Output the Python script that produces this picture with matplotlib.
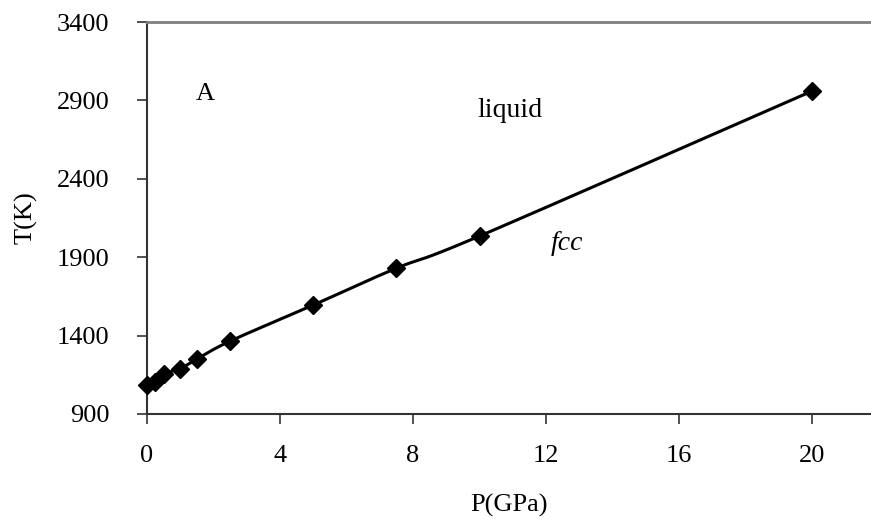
import numpy as np
import matplotlib
matplotlib.use("Agg")
import matplotlib.pyplot as plt

P = [0, 0.25, 0.5, 1.0, 1.5, 2.5, 5, 7.5, 10, 20]
T = [1085, 1105, 1155, 1190, 1250, 1365, 1595, 1830, 2035, 2960]
xticks = [0, 4, 8, 12, 16, 20]
yticks = [900, 1400, 1900, 2400, 2900, 3400]

plt.rcParams['font.family'] = ['Liberation Serif', 'DejaVu Serif']

fig = plt.figure(figsize=(8.71, 5.22), dpi=100)
ax = fig.add_axes([0.1688, 0.2069, 0.8312, 0.7509])

# smooth (Catmull-Rom) curve through the points, like a spreadsheet smoothed line
x = np.array(P, float); y = np.array(T, float)
xs, ys = [], []
for i in range(len(x) - 1):
    p0 = np.array([x[max(i-1, 0)], y[max(i-1, 0)]])
    p1 = np.array([x[i], y[i]])
    p2 = np.array([x[i+1], y[i+1]])
    p3 = np.array([x[min(i+2, len(x)-1)], y[min(i+2, len(x)-1)]])
    t = np.linspace(0, 1, 30)[:, None]
    c = 0.5 * ((2*p1) + (-p0 + p2)*t + (2*p0 - 5*p1 + 4*p2 - p3)*t**2 + (-p0 + 3*p1 - 3*p2 + p3)*t**3)
    xs.extend(c[:, 0]); ys.extend(c[:, 1])
ax.plot(xs, ys, color='black', lw=2.2, zorder=2)
ax.plot(P, T, linestyle='none', marker='D', markersize=9, color='black', zorder=3, clip_on=False)

ax.set_xlim(0, 21.77)
ax.set_ylim(900, 3400)
ax.set_xticks(xticks)
ax.set_yticks(yticks)
ax.tick_params(axis='both', labelsize=19, direction='out', length=7, width=1.2, color='#333333')
ax.tick_params(axis='x', pad=15)
ax.tick_params(axis='y', pad=20)

ax.spines['right'].set_visible(False)
ax.spines['top'].set_color('#808080')
ax.spines['top'].set_linewidth(2)
ax.spines['left'].set_linewidth(1.5)
ax.spines['left'].set_color('#333333')
ax.spines['bottom'].set_linewidth(1.5)
ax.spines['bottom'].set_color('#333333')

ax.set_xlabel('P(GPa)', fontsize=19, labelpad=20)
ax.set_ylabel('T(K)', fontsize=19, labelpad=14)

ax.text(1.74, 2901, 'A', fontsize=19, ha='center', va='baseline')
ax.text(10.92, 2793, 'liquid', fontsize=20, ha='center', va='baseline')
ax.text(12.63, 1949, 'fcc', fontsize=20, style='italic', ha='center', va='baseline')

fig.savefig('out.png', dpi=100)
